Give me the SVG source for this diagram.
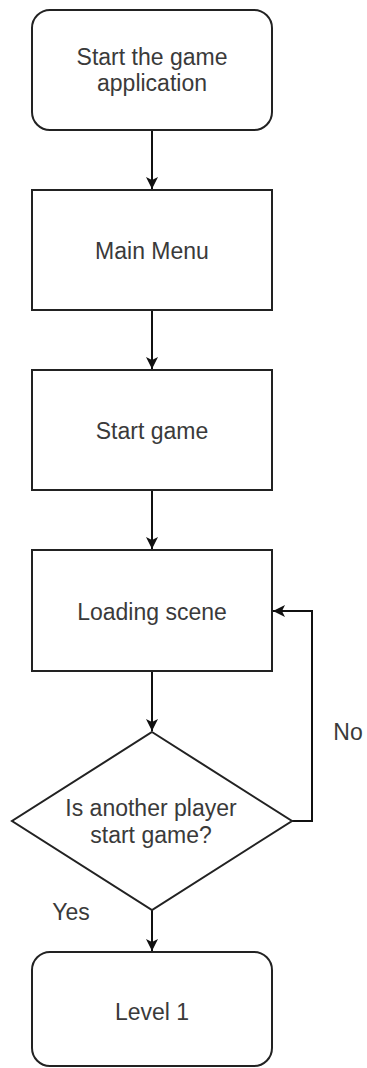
<svg xmlns="http://www.w3.org/2000/svg" width="367" height="1068" viewBox="0 0 367 1068">
  <style>
    .shape { fill: #ffffff; stroke: #222222; stroke-width: 2; }
    .label { font-family: "Liberation Sans", Arial, sans-serif; font-size: 23px; fill: #3a3a3a; text-anchor: middle; }
    .edge { fill: none; stroke: #111111; stroke-width: 2; }
  </style>
  <defs>
    <marker id="arrow" viewBox="0 0 12 12" refX="12" refY="6" markerWidth="12" markerHeight="12" markerUnits="userSpaceOnUse" orient="auto">
      <path d="M0,0 L12,6 L0,12 L3,6 Z" fill="#111111"/>
    </marker>
  </defs>
  <rect width="367" height="1068" fill="#ffffff"/>

  <g id="connectors">
    <path class="edge" d="M152,130 V189" marker-end="url(#arrow)"/>
    <path class="edge" d="M152,310 V369" marker-end="url(#arrow)"/>
    <path class="edge" d="M152,490 V549" marker-end="url(#arrow)"/>
    <path class="edge" d="M152,671 V731" marker-end="url(#arrow)"/>
    <path class="edge" d="M152,910 V951" marker-end="url(#arrow)"/>
    <path class="edge" d="M292,821 H312 V611 H273" marker-end="url(#arrow)"/>
    <text class="label" x="348" y="740">No</text>
    <text class="label" x="71" y="920">Yes</text>
  </g>

  <g id="start-app">
    <rect class="shape" x="32" y="10" width="240" height="120" rx="18" ry="18"/>
    <text class="label" x="152" y="65">Start the game</text>
    <text class="label" x="152" y="91">application</text>
  </g>

  <g id="main-menu">
    <rect class="shape" x="32" y="190" width="240" height="120"/>
    <text class="label" x="152" y="259">Main Menu</text>
  </g>

  <g id="start-game">
    <rect class="shape" x="32" y="370" width="240" height="120"/>
    <text class="label" x="152" y="439">Start game</text>
  </g>

  <g id="loading-scene">
    <rect class="shape" x="32" y="550" width="240" height="121"/>
    <text class="label" x="152" y="620">Loading scene</text>
  </g>

  <g id="player-check">
    <polygon class="shape" points="152,732 292,821 152,910 12,821"/>
    <text class="label" x="151" y="816">Is another player</text>
    <text class="label" x="151" y="843">start game?</text>
  </g>

  <g id="level-1">
    <rect class="shape" x="32" y="952" width="240" height="114" rx="18" ry="18"/>
    <text class="label" x="152" y="1020">Level 1</text>
  </g>
</svg>
